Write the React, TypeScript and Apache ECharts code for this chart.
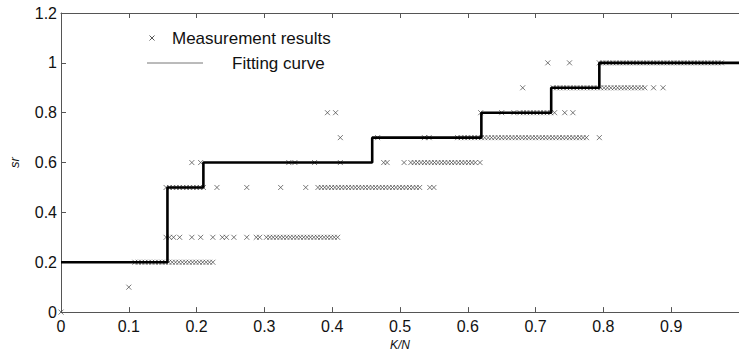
import React, { useEffect, useRef } from "react";
import * as echarts from "echarts";

// Fitting curve (step levels start at each x)
const stepX = [0, 0.157, 0.21, 0.459, 0.62, 0.723, 0.794, 1];
const stepY = [0.2, 0.5, 0.6, 0.7, 0.8, 0.9, 1.0, 1.0];

// Isolated measurement points, by level
const pts00 = [0];
const pts01 = [0.1];
const pts03 = [0.155, 0.16, 0.166, 0.175, 0.193, 0.206, 0.224, 0.238, 0.244, 0.255, 0.274, 0.288, 0.293];
const pts05 = [0.23, 0.274, 0.324, 0.361, 0.544, 0.55];
const pts06 = [0.193, 0.206, 0.336, 0.345, 0.374, 0.412, 0.476, 0.481, 0.506, 0.618];
const pts07 = [0.412, 0.467, 0.536, 0.543, 0.794];
const pts08 = [0.393, 0.405, 0.619, 0.65, 0.668, 0.728, 0.743, 0.755];
const pts09 = [0.681, 0.874, 0.888];
const pts10 = [0.718, 0.75];

// Dense runs of measurement markers: [from, to, level]
const denseRuns: [number, number, number][] = [
  [0.109, 0.225, 0.2],
  [0.303, 0.408, 0.3],
  [0.155, 0.208, 0.5],
  [0.379, 0.527, 0.5],
  [0.516, 0.609, 0.6],
  [0.585, 0.777, 0.7],
  [0.677, 0.721, 0.8],
  [0.726, 0.862, 0.9],
  [0.794, 0.976, 1.0],
];
const runSpacing = 0.005;

const xTicks = { min: 0, max: 1, interval: 0.1 };
const yTicks = { min: 0, max: 1.2, interval: 0.2 };

const FONT = "'Liberation Sans', Arial, Helvetica, sans-serif";

function buildScatter(): [number, number][] {
  const out: [number, number][] = [];
  const add = (xs: number[], y: number) => xs.forEach((x) => out.push([x, y]));
  add(pts00, 0);
  add(pts01, 0.1);
  add(pts03, 0.3);
  add(pts05, 0.5);
  add(pts06, 0.6);
  add(pts07, 0.7);
  add(pts08, 0.8);
  add(pts09, 0.9);
  add(pts10, 1.0);
  denseRuns.forEach(([a, b, y]) => {
    const n = Math.round((b - a) / runSpacing);
    for (let i = 0; i <= n; i++) out.push([+(a + i * runSpacing).toFixed(4), y]);
  });
  return out;
}

const CROSS = "path://M0,0L10,10M10,0L0,10";

export default function App() {
  const ref = useRef<HTMLDivElement>(null);
  useEffect(() => {
    if (!ref.current) return;
    const chart = echarts.init(ref.current, null, { renderer: "svg" });
    const axisLine = { show: true, lineStyle: { color: "#555", width: 1 } };
    chart.setOption({
      animation: false,
      backgroundColor: "#fff",
      grid: { left: 57, top: 13, width: 686, height: 300 },
      xAxis: [
        {
          type: "value",
          position: "bottom",
          ...xTicks,
          axisLine,
          axisTick: { show: true, inside: true, length: 5, lineStyle: { color: "#555" } },
          axisLabel: { fontSize: 16, color: "#111", fontFamily: FONT, margin: 6, showMaxLabel: false },
          splitLine: { show: false },
          name: "K/N",
          nameLocation: "middle",
          nameGap: 22,
          nameTextStyle: { fontStyle: "italic", fontSize: 12, color: "#111", fontFamily: FONT },
        },
        {
          type: "value",
          position: "top",
          ...xTicks,
          axisLine,
          axisTick: { show: true, inside: true, length: 5, lineStyle: { color: "#555" } },
          axisLabel: { show: false },
          splitLine: { show: false },
        },
      ],
      yAxis: [
        {
          type: "value",
          ...yTicks,
          axisLine,
          axisTick: { show: true, inside: true, length: 5, lineStyle: { color: "#555" } },
          axisLabel: { fontSize: 16, color: "#111", fontFamily: FONT, margin: 4 },
          splitLine: { show: false },
          name: "sr",
          nameLocation: "middle",
          nameGap: 40,
          nameRotate: 90,
          nameTextStyle: { fontStyle: "italic", fontSize: 13, color: "#111", fontFamily: FONT },
        },
      ],
      series: [
        {
          name: "Measurement results",
          type: "scatter",
          data: buildScatter(),
          symbol: CROSS,
          symbolSize: 5,
          itemStyle: { color: "rgba(0,0,0,0)", borderColor: "#444", borderWidth: 0.9 },
          z: 3,
        },
        {
          name: "Fitting curve",
          type: "line",
          step: "end",
          data: stepX.map((x, i) => [x, stepY[i]]),
          showSymbol: false,
          symbol: "none",
          lineStyle: { color: "#000", width: 2.6 },
          z: 4,
        },
      ],
      graphic: [
        { type: "line", shape: { x1: 149.5, y1: 35.5, x2: 154.5, y2: 40.5 }, style: { stroke: "#444", lineWidth: 0.9 } },
        { type: "line", shape: { x1: 154.5, y1: 35.5, x2: 149.5, y2: 40.5 }, style: { stroke: "#444", lineWidth: 0.9 } },
        {
          type: "text",
          x: 172,
          y: 38,
          style: { text: "Measurement results", fontSize: 17, fontFamily: FONT, fill: "#111", verticalAlign: "middle" },
        },
        { type: "line", shape: { x1: 147, y1: 63, x2: 203, y2: 63 }, style: { stroke: "#777", lineWidth: 1 } },
        {
          type: "text",
          x: 232,
          y: 63,
          style: { text: "Fitting curve", fontSize: 17, fontFamily: FONT, fill: "#111", verticalAlign: "middle" },
        },
      ],
    });
    return () => chart.dispose();
  }, []);
  return (
    <div
      ref={ref}
      style={{ position: "absolute", left: 0, top: 0, width: 739, height: 356, background: "#fff" }}
    />
  );
}
